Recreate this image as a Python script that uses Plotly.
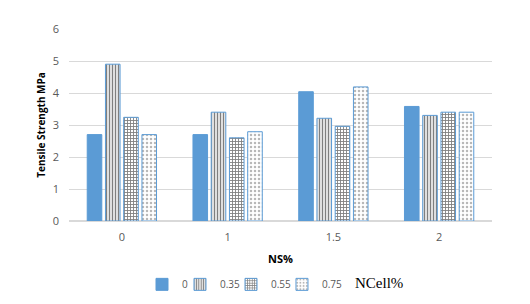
import plotly.graph_objects as go

categories = ["0", "1", "1.5", "2"]
series_names = ["0", "0.35", "0.55", "0.75"]
v_0 = [2.7, 2.7, 4.04, 3.58]
v_035 = [4.9, 3.4, 3.21, 3.3]
v_055 = [3.24, 2.6, 2.96, 3.4]
v_075 = [2.7, 2.79, 4.19, 3.4]
y_ticks = [0, 1, 2, 3, 4, 5, 6]

blue = "#5B9BD5"
values = [v_0, v_035, v_055, v_075]
patterns = ["", "|", "+", "."]
fg = ["", "#000000", "#000000", "#6F6F6F"]
sizes = [0, 3, 3, 4]
solid = [0, 0.5, 0.5, 0.3]
legend_ids = ["legend", "legend2", "legend3", "legend4"]
legend_x = [0.1726, 0.2624, 0.383, 0.5035]

fig = go.Figure()
for name, vals, pat, fgc, sz, so, lid in zip(series_names, values, patterns, fg, sizes, solid, legend_ids):
    if pat == "":
        marker = dict(color=blue, line=dict(color=blue, width=1))
    else:
        marker = dict(color="white", line=dict(color=blue, width=1),
                      pattern=dict(shape=pat, fgcolor=fgc, bgcolor="white",
                                   size=sz, solidity=so, fillmode="overlay"))
    fig.add_trace(go.Bar(x=categories, y=vals, name=name, marker=marker, legend=lid))

base_font = "Open Sans, Liberation Sans, sans-serif"
tick_font = dict(family=base_font, size=11, color="#595959")
legend_font = dict(family=base_font, size=10, color="#595959")

legends = {}
for lid, lx in zip(legend_ids, legend_x):
    legends[lid] = dict(orientation="h", x=lx, xanchor="left", y=-0.33, yanchor="middle",
                        font=legend_font, itemwidth=30, bgcolor="rgba(0,0,0,0)")

# page body has an 8px margin, so the figure is sized/offset to compensate
fig.update_layout(
    width=514, height=288,
    margin=dict(l=61, r=30, t=21, b=75, autoexpand=False),
    paper_bgcolor="white", plot_bgcolor="white",
    barmode="group", bargap=0.31, bargroupgap=0.2,
    showlegend=True,
    xaxis=dict(type="category", tickfont=tick_font, showgrid=False, showline=False,
               ticks="", automargin=False, ticklabelstandoff=8,
               title=dict(text="<b>NS%</b>", font=dict(family=base_font, size=11, color="#000000"),
                          standoff=12)),
    yaxis=dict(range=[0, 6], tickvals=y_ticks, tickfont=tick_font, showgrid=True,
               gridcolor="#D9D9D9", gridwidth=1, zeroline=True, zerolinecolor="#D9D9D9",
               zerolinewidth=1.5, ticklabelstandoff=9, automargin=False,
               title=dict(text="<b>Tensile Strength MPa</b>",
                          font=dict(family=base_font, size=10, color="#000000"),
                          standoff=5)),
    annotations=[dict(text="NCell%", xref="paper", yref="paper", x=0.672, y=-0.325,
                      xanchor="left", yanchor="middle", showarrow=False,
                      font=dict(family="Liberation Serif, Times New Roman, serif", size=15, color="#000000"))],
    **legends,
)

fig.write_html("out.html")
